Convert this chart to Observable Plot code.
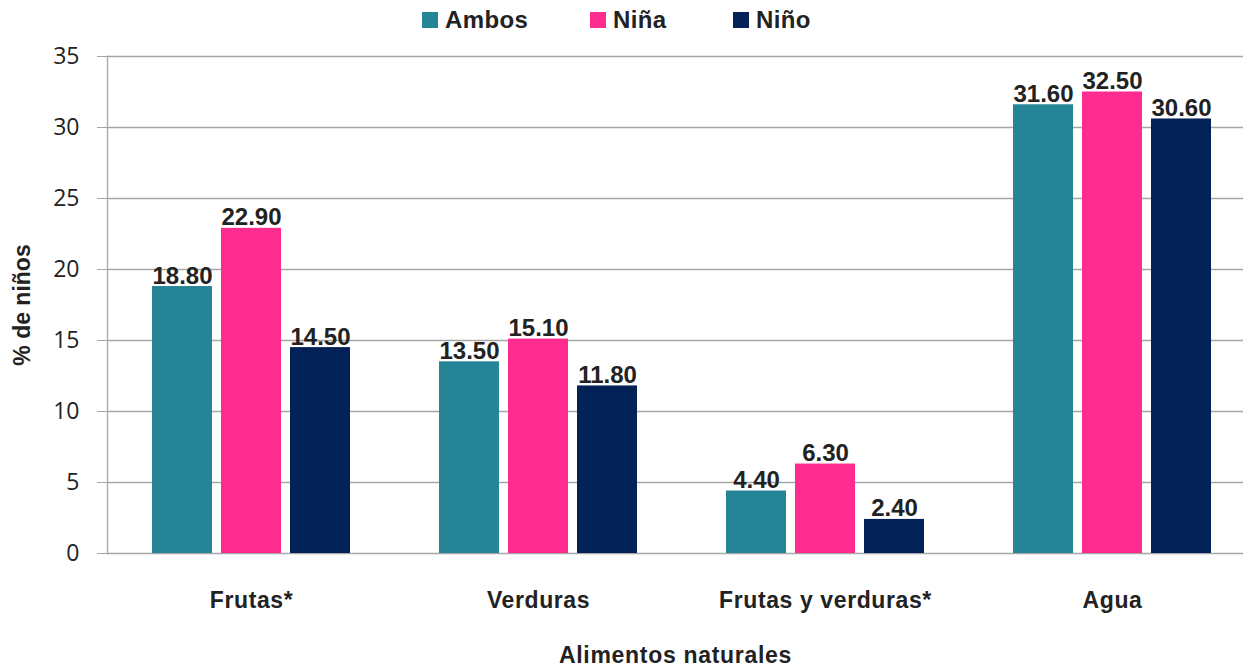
<!DOCTYPE html>
<html><head><meta charset="utf-8">
<script src="https://cdn.jsdelivr.net/npm/d3@7"></script>
<script src="https://cdn.jsdelivr.net/npm/@observablehq/plot@0.6"></script>
<style>
body{margin:0;background:#fff;font-family:"Liberation Sans",Arial,sans-serif;}
#legend{position:relative;height:42px;width:1257px;}
.li{position:absolute;top:6px;font-weight:bold;font-size:24px;letter-spacing:0.4px;color:#222;line-height:28px;}
.sw{position:absolute;top:12px;width:16px;height:16px;}
svg [aria-label="x-axis tick label"] text{letter-spacing:0.6px;}
svg [aria-label="x-axis label"] text{letter-spacing:0.7px;}
</style></head>
<body>
<div id="legend"></div>
<div id="chart"></div>
<script>
const categories = ["Frutas*", "Verduras", "Frutas y verduras*", "Agua"];
const series = ["Ambos", "Niña", "Niño"];
const ambos = [18.8, 13.5, 4.4, 31.6];
const nina = [22.9, 15.1, 6.3, 32.5];
const nino = [14.5, 11.8, 2.4, 30.6];
const colors = ["#268497", "#fe2c8e", "#022157"];
const yTicks = [0, 5, 10, 15, 20, 25, 30, 35];
const yLabel = "% de niños";
const xLabel = "Alimentos naturales";

const values = [ambos, nina, nino];
const data = categories.flatMap((c, i) => series.map((s, j) => ({category: c, series: s, value: values[j][i]})));

// legend
const legend = document.getElementById("legend");
const legendPos = [422, 590, 733];
series.forEach((s, j) => {
  const sw = document.createElement("div");
  sw.className = "sw"; sw.style.left = legendPos[j] + "px"; sw.style.background = colors[j];
  legend.appendChild(sw);
  const t = document.createElement("div");
  t.className = "li"; t.style.left = (legendPos[j] + 23) + "px"; t.textContent = s;
  legend.appendChild(t);
});

const step = 69;
const font = "Liberation Sans, Arial, sans-serif";
const marks = [
  Plot.ruleY(yTicks, {stroke: "#a6a6a6", strokeWidth: 1.3}),
  Plot.frame({anchor: "left", stroke: "#a6a6a6", strokeWidth: 1.3}),
];
series.forEach((s, j) => {
  const sub = data.filter(d => d.series === s);
  marks.push(Plot.barY(sub, {x: "category", y: "value", fill: "series", insetLeft: j * step, insetRight: (2 - j) * step}));
  marks.push(Plot.text(sub, {x: "category", y: "value", text: d => d.value.toFixed(2), dx: (j - 1) * step, dy: -3, lineAnchor: "bottom", fontSize: 24, fontWeight: "bold", fill: "#222", fontFamily: font}));
});
marks.push(Plot.axisY(yTicks, {tickSize: 10, tickPadding: 18, stroke: "#a6a6a6", fontSize: 23, fontFamily: "Open Sans, sans-serif", fill: "#222", label: null}));
marks.push(Plot.text([yLabel], {text: d => d, frameAnchor: "left", textAnchor: "middle", rotate: -90, dx: -85, fontSize: 23, fontWeight: "bold", fontFamily: font, fill: "#222"}));
marks.push(Plot.axisX({tickSize: 0, tickPadding: 38, fontSize: 23, fontWeight: "bold", fontFamily: font, fill: "#222", label: xLabel, labelAnchor: "center", labelOffset: 109}));

const chart = Plot.plot({
  width: 1257,
  height: 624,
  marginTop: 14,
  marginBottom: 113,
  marginLeft: 107,
  marginRight: 14,
  x: {domain: categories, paddingInner: 0.31, paddingOuter: 0.134, align: 0.58},
  y: {domain: [0, 35]},
  color: {domain: series, range: colors},
  style: {background: "#fff", overflow: "visible"},
  marks
});
document.getElementById("chart").appendChild(chart);
</script>
</body></html>
